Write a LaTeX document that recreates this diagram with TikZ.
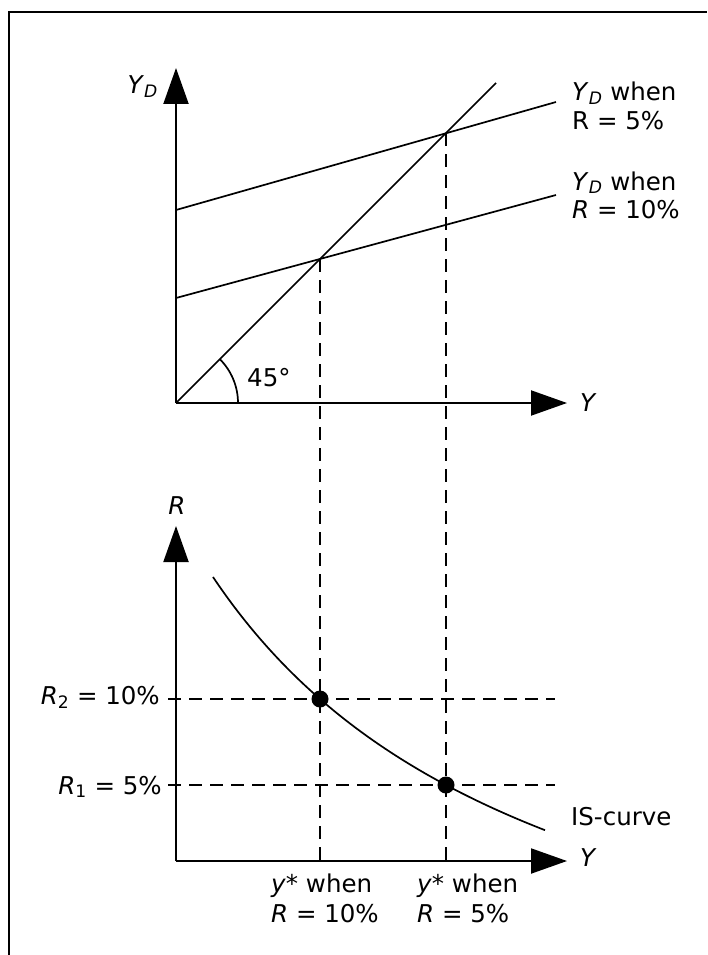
\documentclass[tikz,border=0pt]{standalone}
\usepackage{fontspec}
\setmainfont{DejaVu Sans}
\usetikzlibrary{arrows.meta}
\begin{document}
\begin{tikzpicture}[x=1pt,y=-1pt,
  axis/.style={line width=2pt,-{Triangle[length=36pt,width=25pt]}},
  curve/.style={line width=1.7pt},
  guide/.style={line width=1.7pt,dash pattern=on 13pt off 8pt},
  lbl/.style={font=\fontsize{24.5}{29}\selectfont, inner sep=0pt},
  dot/.style={circle,fill=black,minimum size=17pt,inner sep=0pt}]
\useasboundingbox (0,0) rectangle (707,955);
\draw[line width=1.8pt] (9,955) -- (9,12) -- (707,12);
% top panel
\coordinate (O1) at (176,403);
\coordinate (YDtip) at (176,68);
\coordinate (Y1tip) at (567,403);
\coordinate (D45) at (496,83);
\coordinate (A) at (320,259);
\coordinate (B) at (446,133);
\coordinate (U0) at (176,210);
\coordinate (U1) at (556,102);
\coordinate (L0) at (176,298);
\coordinate (L1) at (556,195);
\draw[axis] (O1) -- (YDtip);
\draw[axis] (O1) -- (Y1tip);
\draw[curve] (O1) -- (D45);
\draw[curve] (238,403) arc[start angle=0,end angle=-45,radius=62];
\draw[curve] (U0) -- (U1);
\draw[curve] (L0) -- (L1);
\node[lbl,anchor=east] (ydlab) at (158,87) {\textit{Y}\textsubscript{\textit{D}}};
\node[lbl,anchor=west] (ang) at (247,378) {45°};
\node[lbl,anchor=west] (y1lab) at (580,403) {\textit{Y}};
\node[lbl,anchor=base west] (u1) at (572,101) {\textit{Y}\textsubscript{\textit{D}} when};
\node[lbl,anchor=base west] (u2) at (572,129) {R = 5\%};
\node[lbl,anchor=base west] (l1) at (572,190) {\textit{Y}\textsubscript{\textit{D}} when};
\node[lbl,anchor=base west] (l2) at (572,218) {\textit{R} = 10\%};
% bottom panel
\coordinate (O2) at (176,861);
\coordinate (Rtip) at (176,526);
\coordinate (Y2tip) at (567,861);
\coordinate (A2) at (320,861);
\coordinate (B2) at (446,861);
\draw[guide] (A) -- (A2);
\draw[guide] (B) -- (B2);
\draw[guide] (168,699) -- (555,699);
\draw[guide] (168,785) -- (555,785);
\draw[axis] (O2) -- (Rtip);
\draw[axis] (O2) -- (Y2tip);
\draw[curve] plot[domain=213:545,samples=80,smooth] (\x,{1095.2-1800.8/((\x+134.5)/100)});
\node[dot] (p2) at (320,699) {};
\node[dot] (p1) at (446,785) {};
\node[lbl] (rlab) at (177,506) {\textit{R}};
\node[lbl,anchor=west] (y2lab) at (580,858) {\textit{Y}};
\node[lbl,anchor=west] (is) at (571,817) {IS-curve};
\node[lbl,anchor=base east] (r2) at (160,704) {\textit{R}\textsubscript{2} = 10\%};
\node[lbl,anchor=base east] (r1) at (162,794) {\textit{R}\textsubscript{1} = 5\%};
\node[lbl,anchor=base west] (b1) at (271,892) {\textit{y}* when};
\node[lbl,anchor=base west] (b2) at (271,922) {\textit{R} = 10\%};
\node[lbl,anchor=base west] (c1) at (417,892) {\textit{y}* when};
\node[lbl,anchor=base west] (c2) at (417,922) {\textit{R} = 5\%};
\end{tikzpicture}
\end{document}
